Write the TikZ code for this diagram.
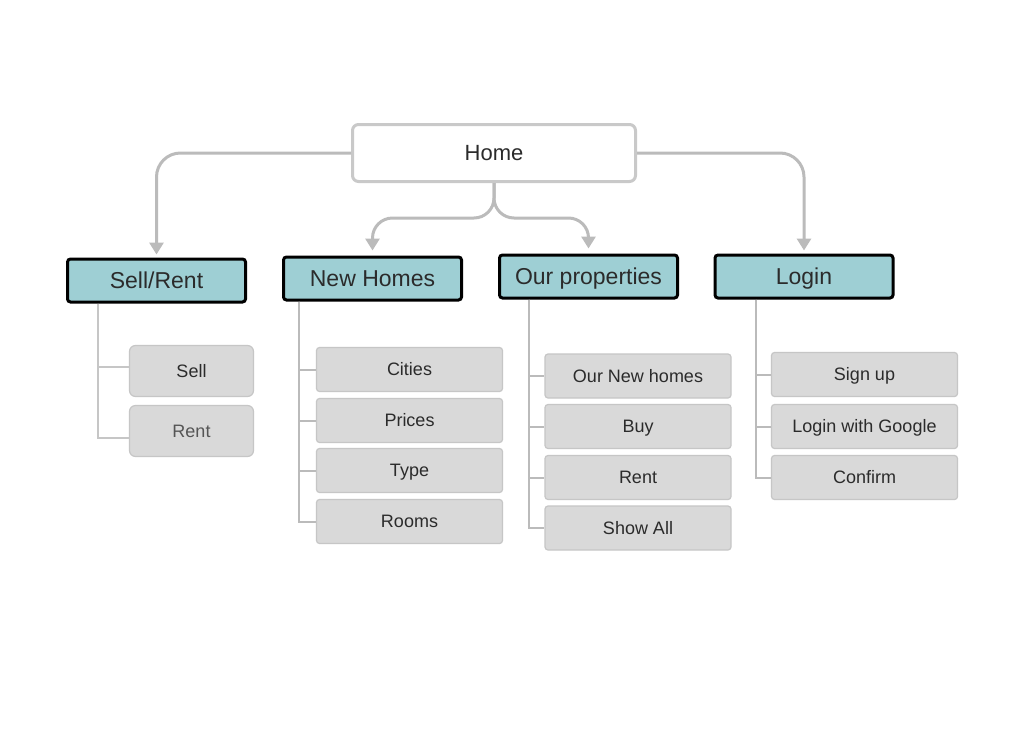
\documentclass[tikz,border=0pt]{standalone}
\usepackage{fontspec}
\setmainfont{Liberation Sans}
\usetikzlibrary{arrows.meta}
\definecolor{headfill}{HTML}{9ECFD4}
\definecolor{boxfill}{HTML}{D9D9D9}
\definecolor{boxline}{HTML}{C6C6C6}
\definecolor{connline}{HTML}{BBBBBB}
\definecolor{homeline}{HTML}{C9C9C9}
\definecolor{txt}{HTML}{2B2B2B}
\tikzset{
  homebox/.style={text height=15.8pt, text depth=0pt, draw=homeline, line width=3pt, rounded corners=6pt, fill=white,
    minimum width=283pt, minimum height=57pt, inner sep=0pt, text=txt,
    font=\fontsize{22}{26}\selectfont},
  headbox/.style={text height=16.5pt, text depth=0pt, draw=black, line width=3pt, rounded corners=3pt, fill=headfill,
    minimum width=178pt, minimum height=43pt, inner sep=0pt, text=txt,
    font=\fontsize{23}{27}\selectfont},
  leafbox/.style={text height=12.9pt, text depth=0pt, draw=boxline, line width=1.2pt, rounded corners=3pt, fill=boxfill,
    minimum width=186pt, minimum height=44pt, inner sep=0pt, text=txt,
    font=\fontsize{18}{22}\selectfont},
  smallleaf/.style={leafbox, rounded corners=6pt, minimum width=124pt, minimum height=51pt},
  conn/.style={draw=connline, line width=3pt, rounded corners=24pt,
    -{Triangle[width=14pt,length=12pt]}, shorten >=3pt},
  treeline/.style={draw=connline, line width=2pt},
  thintree/.style={draw=boxline, line width=1.2pt},
}
\begin{document}
\begin{tikzpicture}[x=1pt,y=-1pt]
\useasboundingbox[fill=white] (0,0) rectangle (1024,742);

\node[homebox] (home) at (494,153) {Home};

\node[headbox] (sr) at (156.5,280.5) {Sell/Rent};
\node[headbox] (nh) at (372.5,278.5) {New Homes};
\node[headbox] (op) at (588.5,276.5) {Our properties};
\node[headbox] (lg) at (804,276.5) {Login};

\coordinate (split) at (494,218);

% top connectors
\draw[conn] (home.west) -| (sr.north);
\draw[conn] (home.east) -| (lg.north);
\draw[conn, rounded corners=20pt, shorten >=5pt] (home.south) -- (home.south |- split) -| (nh.north);
\draw[conn, rounded corners=20pt, shorten >=5pt] (home.south) -- (home.south |- split) -| (op.north);

% Sell/Rent children
\node[smallleaf] (sell) at (191.5,371) {Sell};
\node[smallleaf, text=txt!80] (rent) at (191.5,431) {Rent};
\draw[thintree] ([xshift=32pt]sr.south west) |- ([yshift=4pt]sell.west);
\draw[thintree] ([xshift=32pt]sr.south west) |- ([yshift=-7pt]rent.west);

% New Homes children
\node[leafbox] (cities) at (409.5,369.5) {Cities};
\node[leafbox] (prices) at (409.5,420.5) {Prices};
\node[leafbox] (type) at (409.5,470.5) {Type};
\node[leafbox] (rooms) at (409.5,521.5) {Rooms};
\foreach \c in {cities,prices,type,rooms}
  \draw[treeline] ([xshift=17pt]nh.south west) |- (\c.west);

% Our properties children
\node[leafbox] (onh) at (638,376) {Our New homes};
\node[leafbox] (buy) at (638,426.5) {Buy};
\node[leafbox] (oprent) at (638,477.5) {Rent};
\node[leafbox] (showall) at (638,528) {Show All};
\foreach \c in {onh,buy,oprent,showall}
  \draw[treeline] ([xshift=31pt]op.south west) |- (\c.west);

% Login children
\node[leafbox] (signup) at (864.5,374.5) {Sign up};
\node[leafbox] (google) at (864.5,426.5) {Login with Google};
\node[leafbox] (confirm) at (864.5,477.5) {Confirm};
\foreach \c in {signup,google,confirm}
  \draw[treeline] ([xshift=42pt]lg.south west) |- (\c.west);
\end{tikzpicture}
\end{document}
